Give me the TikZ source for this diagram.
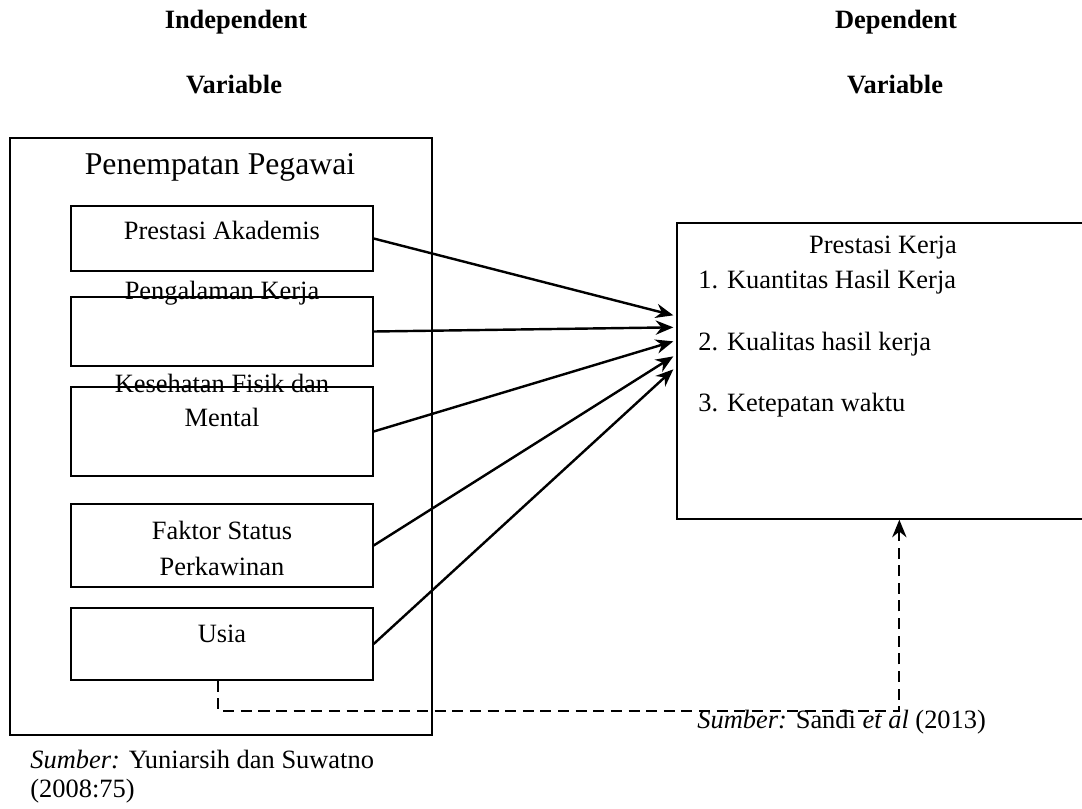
\documentclass[tikz,border=0pt]{standalone}
\usepackage{fontspec}
\setmainfont{Liberation Serif}
\usetikzlibrary{fit,arrows.meta,calc}

\begin{document}
\begin{tikzpicture}
[   x=0.454pt,y=-0.454pt,
    kotak/.style={draw,line width=0.6pt,inner sep=0pt},
    teks/.style={inner sep=0pt,font=\fontsize{12}{14}\selectfont},
    judul/.style={inner sep=0pt,font=\fontsize{12}{14}\selectfont\bfseries},
    panah/.style={-{Stealth[length=8pt,width=6.5pt]},line width=1.1pt},
    putus/.style={dash pattern=on 5pt off 3pt,line width=1pt}
]
    \clip (0,0) rectangle (1082,808);
    % judul kolom
    \node[judul] (indep) at (236,22) {Independent};
    \node[judul] (indepvar) at (234,85) {Variable};
    \node[judul] (dep) at (896,22) {Dependent};
    \node[judul] (depvar) at (895,85) {Variable};
    % kotak kiri
    \node[kotak,fit={(10,138) (432,735)}] (penempatan) {};
    \node[teks,font=\fontsize{14.4}{17}\selectfont] (penempatanlbl) at (220,167) {Penempatan Pegawai};
    \node[kotak,fit={(71,206) (373,271)}] (akademis) {};
    \node[kotak,fit={(71,297) (373,366)}] (pengalaman) {};
    \node[kotak,fit={(71,387) (373,476)}] (kesehatan) {};
    \node[kotak,fit={(71,504) (373,587)}] (status) {};
    \node[kotak,fit={(71,608) (373,680)}] (usia) {};
    \node[teks] (akademislbl) at (222,230) {Prestasi Akademis};
    \node[teks] (pengalamanlbl) at (222,293) {Pengalaman Kerja};
    \node[teks] (kesehatanlbl) at (222,383) {Kesehatan Fisik dan};
    \node[teks] (mentallbl) at (222,417) {Mental};
    \node[teks] (statuslbl) at (222,530) {Faktor Status};
    \node[teks] (kawinlbl) at (222,566) {Perkawinan};
    \node[teks] (usialbl) at (222,634) {Usia};
    % kotak kanan
    \node[kotak,fit={(677,223) (1100,519)}] (kerja) {};
    \node[teks] (kerjalbl) at (883,248) {Prestasi Kerja};
    \node[teks,anchor=west] (kuantitas) at (698,282) {1. Kuantitas Hasil Kerja};
    \node[teks,anchor=west] (kualitas) at (698,344) {2. Kualitas hasil kerja};
    \node[teks,anchor=west] (waktu) at (698,405) {3. Ketepatan waktu};
    % panah
    \foreach \s/\dy in {akademis/93,pengalaman/105,kesehatan/119,status/134,usia/147}
        \draw[panah] (\s.east) -- ($(kerja.north west)+(-3,\dy)$);
    \draw[putus,-{Stealth[length=8pt,width=6.5pt]}] ($(usia.south)+(-4,0)$) -- ++(0,30) -| ($(kerja.south west)+(223,0)$);
    % sumber
    \node[teks,anchor=west] (sumberkanan) at (697,722) {\textit{Sumber:} Sandi \textit{et al} (2013)};
    \node[teks,anchor=west] (sumberkiri) at (30,760) {\textit{Sumber:} Yuniarsih dan Suwatno};
    \node[teks,anchor=west] (tahunkiri) at (30,791) {(2008:75)};
\end{tikzpicture}
\end{document}
